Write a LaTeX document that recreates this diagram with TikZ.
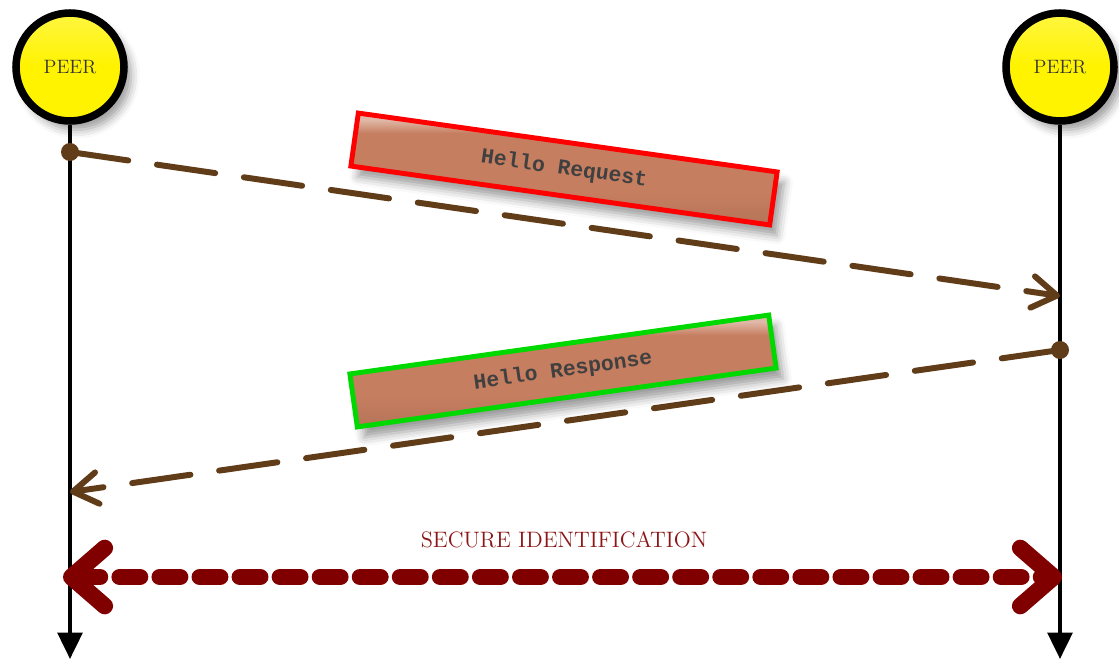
\documentclass[tikz,border=0pt]{standalone}
\usepackage{fontspec}
\usepackage{xcolor}
\usepackage{tikz}
\usetikzlibrary{shadows,shadows.blur}
\usetikzlibrary{positioning}
\usetikzlibrary{arrows.meta,shapes}
\usetikzlibrary{calc}

\newfontfamily\msgfont{Liberation Mono}

\definecolor{peeryellow}{RGB}{255,243,0}
\definecolor{msgbrown}{RGB}{96,60,24}
\definecolor{boxfill}{RGB}{198,126,96}
\definecolor{secred}{RGB}{128,0,0}
\definecolor{seclabel}{RGB}{140,22,22}

% glossy band along the top edge of the message boxes
\pgfdeclareverticalshading{boxgloss}{100bp}{color(0bp)=(boxfill!90!black); color(25bp)=(boxfill!92!black); color(40bp)=(boxfill); color(66bp)=(boxfill); color(72bp)=(boxfill!55!white); color(100bp)=(boxfill!55!white)}

\tikzstyle{peer}=[circle,draw=black,line width=4.3pt,minimum size=2.16cm,inner sep=0pt,top color=peeryellow!75!white,bottom color=peeryellow,middle color=peeryellow,blur shadow={shadow xshift=4pt,shadow yshift=-5pt,shadow blur radius=5pt},text=black!80,font=\fontsize{11}{13}\selectfont]
\tikzstyle{dot}=[circle,fill=msgbrown,minimum size=0.36cm,inner sep=0pt]
\tikzstyle{lifeline}=[line width=2.3pt,black,-{Triangle[length=15pt,width=14pt]}]
\tikzstyle{msgline}=[line width=3.4pt,msgbrown,line cap=round,dash pattern=on 33.5pt off 16.5pt,-{Straight Barb[length=14pt,width=18pt,round]}]
\tikzstyle{secline}=[line width=9.5pt,secred,line cap=round,dash pattern=on 11.5pt off 11.3pt,{Straight Barb[length=19pt,width=33pt,round]}-{Straight Barb[length=19pt,width=33pt,round]}]
\tikzset{msg/.style={rectangle,line width=2.8pt,minimum width=8.46cm,minimum height=1.07cm,inner sep=0pt,shading=boxgloss,blur shadow={shadow xshift=4pt,shadow yshift=-6pt,shadow blur radius=5pt},text=black!75,font=\msgfont\bfseries\fontsize{12.2}{14}\selectfont}}

\begin{document}
\begin{tikzpicture}[x=0.02cm,y=-0.02cm]

  \useasboundingbox (0,0) rectangle (1119,659);

  % the two peers and their lifelines
  \foreach \name/\x in {peerL/70, peerR/1060}
      \node[peer] (\name) at (\x,67) {PEER};

  \coordinate (endL) at (70,659);
  \coordinate (endR) at (1060,659);
  \foreach \source/\dest in {peerL/endL, peerR/endR}
      \draw[lifeline] (\source) -- (\dest);

  % messages
  \node[dot] (reqStart) at (70,152) {};
  \node[dot] (respStart) at (1060,350) {};
  \coordinate (reqEnd) at (1060,296);
  \coordinate (respEnd) at (70,492);

  \foreach \source/\dest in {reqStart/reqEnd, respStart/respEnd}
      \draw[msgline] (\source.center) -- (\dest);

  \node[msg,draw=red,rotate=-8] (req) at (564,169) {Hello Request};
  \node[msg,draw=green!85!black,rotate=8] (resp) at (563,371) {Hello Response};

  % secure identification
  \coordinate (secL) at (63,577);
  \coordinate (secR) at (1062,577);
  \draw[secline] (secL) -- (secR);
  \node[text=seclabel,font=\fontsize{12.7}{15}\selectfont] (sec) at (564,540) {SECURE IDENTIFICATION};

\end{tikzpicture}
\end{document}
